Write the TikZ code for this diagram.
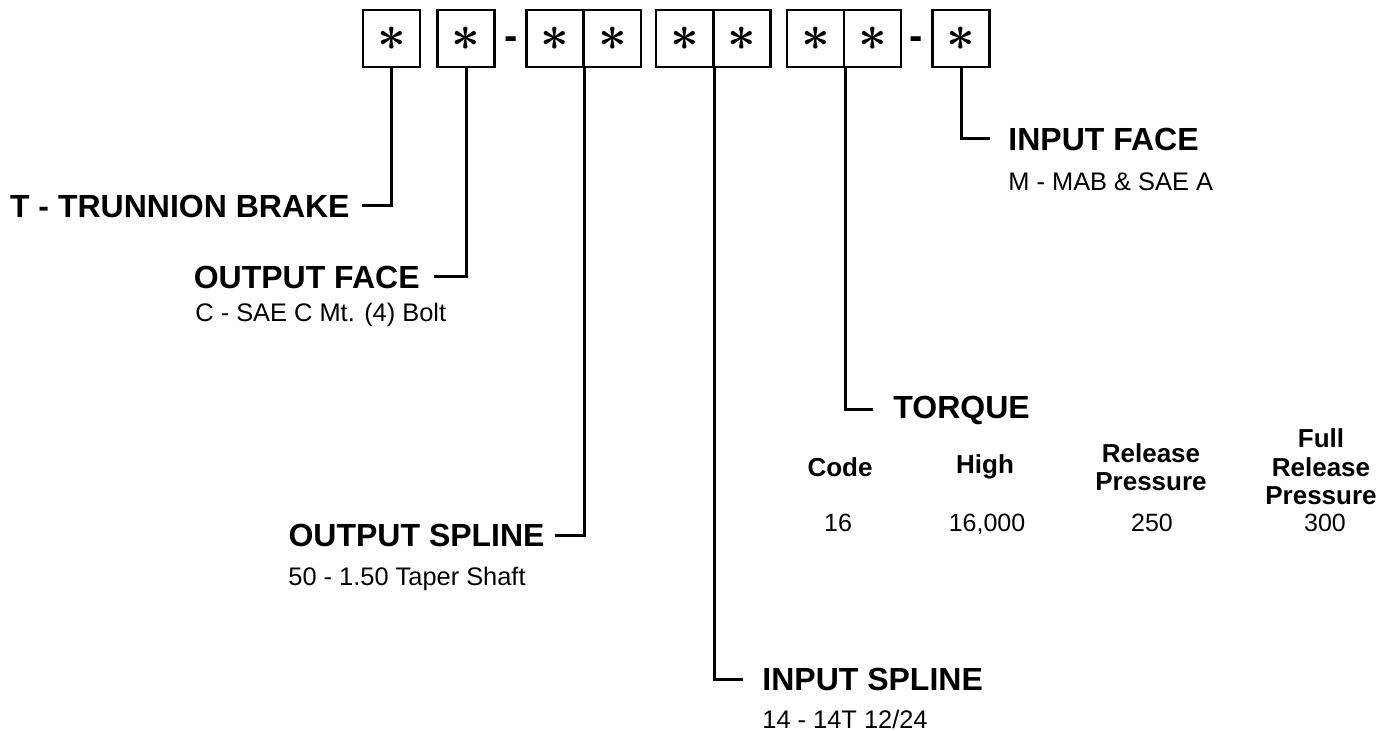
\documentclass[tikz,border=0pt]{standalone}
\usepackage{fontspec}
\setmainfont{Liberation Sans}
\usetikzlibrary{positioning}

\begin{document}
\begin{tikzpicture}[x=0.5pt,y=-0.5pt]
\tikzstyle{cell}=[draw, line width=1.2pt, minimum size=28.5pt,
                  inner sep=0pt, font=\boldmath\fontsize{28}{28}\selectfont]
\tikzstyle{title}=[font=\bfseries\fontsize{16}{18}\selectfont, inner ysep=0pt]
\tikzstyle{sub}=[font=\fontsize{12.7}{14}\selectfont, inner sep=0pt, anchor=base west]
\tikzstyle{head}=[font=\bfseries\fontsize{13}{14.25}\selectfont, align=center, inner sep=0pt]
\tikzstyle{val}=[font=\fontsize{12.5}{14}\selectfont, inner sep=0pt, anchor=base]
\tikzstyle{lead}=[line width=1.5pt]
\useasboundingbox (0,0) rectangle (1395,731);
% code boxes
\node[cell] (b1) at (391.5,38.5){$\ast$};
\node[cell] (b2) at (466,38.5){$\ast$};
\node[cell] (b3a) at (555,38.5){$\ast$};
\node[cell] (b3b) at (612.5,38.5){$\ast$};
\node[cell] (b4a) at (684.5,38.5){$\ast$};
\node[cell] (b4b) at (742,38.5){$\ast$};
\node[cell] (b5a) at (815.5,38.5){$\ast$};
\node[cell] (b5b) at (872.5,38.5){$\ast$};
\node[cell] (b6) at (961,38.5){$\ast$};
\node[font=\bfseries\fontsize{20}{20}\selectfont, anchor=base] (d1) at (511,50){-};
\node[font=\bfseries\fontsize{20}{20}\selectfont, anchor=base] (d2) at (916,50){-};
% labels
\node[title, anchor=east, inner xsep=6pt] (trunnion) at (362,206){T - TRUNNION BRAKE};
\node[title, anchor=east, inner xsep=7pt] (outface) at (434,277){OUTPUT FACE};
\node[sub] (outfacesub) at (195,322){C - SAE C Mt. (4) Bolt};
\node[title, anchor=east, inner xsep=5pt] (outspline) at (555,535){OUTPUT SPLINE};
\node[sub] (outsplinesub) at (288,585){50 - 1.50 Taper Shaft};
\node[title, anchor=west, inner xsep=9.5pt] (inspline) at (743,679){INPUT SPLINE};
\node[sub] (insplinesub) at (762,728){14 - 14T 12/24};
\node[title, anchor=west, inner xsep=10pt] (torque) at (873,410){TORQUE};
\node[title, anchor=west, inner xsep=9pt] (inface) at (990,139){INPUT FACE};
\node[sub] (infacesub) at (1008,191){M - MAB \& SAE A};
% torque table
\node[head] (hcode) at (840,467){Code};
\node[head] (hhigh) at (985,467){High};
\node[head] (hrel) at (1151,467){Release\\Pressure};
\node[head] (hfull) at (1321,467){Full\\Release\\Pressure};
\node[val] (vcode) at (838,531){16};
\node[val] (vhigh) at (987,531){16,000};
\node[val] (vrel) at (1152,531){250};
\node[val] (vfull) at (1325,531){300};
% leaders
\draw[lead] (b1.south) |- (trunnion.east);
\draw[lead] (b2.south) |- (outface.east);
\draw[lead] (b3a.south east) |- (outspline.east);
\draw[lead] (b4a.south east) |- (inspline.west);
\draw[lead] (b5a.south east) |- (torque.west);
\draw[lead] (b6.south) |- (inface.west);
\end{tikzpicture}
\end{document}
